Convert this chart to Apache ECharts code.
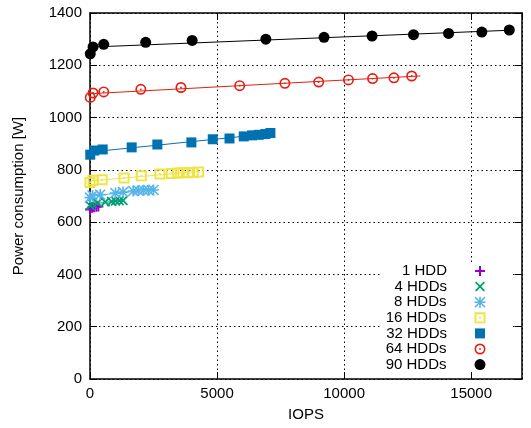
<!DOCTYPE html>
<html>
<head>
<meta charset="utf-8">
<script src="https://cdn.jsdelivr.net/npm/echarts@6/dist/echarts.min.js"></script>
<style>html,body{margin:0;padding:0;background:#fff;}#c{width:531px;height:428px;}</style>
</head>
<body>
<div id="c"></div>
<script>
// ---- data ----
var seriesNames = ['1 HDD', '4 HDDs', '8 HDDs', '16 HDDs', '32 HDDs', '64 HDDs', '90 HDDs'];
var hdd1X = [0, 80, 160, 250, 330];
var hdd1Y = [648, 655, 657, 659, 660];
var hdd4X = [0, 80, 300, 600, 850, 1000, 1150, 1300];
var hdd4Y = [664, 671, 674, 677, 679, 681, 682, 683];
var hdd8X = [0, 100, 400, 1000, 1300, 1700, 1900, 2100, 2300, 2500];
var hdd8Y = [694, 702, 705, 711, 715, 719, 721, 722, 722, 723];
var hdd16X = [0, 120, 480, 1340, 2020, 2750, 3200, 3450, 3660, 3870, 4060, 4270];
var hdd16Y = [752, 760, 762, 769, 777, 784, 786, 788, 789, 789, 790, 792];
var hdd32X = [10, 170, 500, 1640, 2650, 3990, 4830, 5490, 6050, 6380, 6640, 6900, 7100];
var hdd32Y = [858, 874, 878, 886, 897, 905, 917, 920, 928, 932, 934, 937, 941];
var hdd64X = [10, 120, 540, 2000, 3580, 5890, 7670, 9000, 10170, 11120, 11960, 12660];
var hdd64Y = [1077, 1094, 1098, 1108, 1115, 1122, 1131, 1136, 1144, 1149, 1152, 1159];
var hdd90X = [10, 120, 540, 2190, 4020, 6920, 9210, 11100, 12730, 14110, 15420, 16500];
var hdd90Y = [1244, 1270, 1280, 1288, 1295, 1300, 1307, 1312, 1317, 1322, 1327, 1335];
var fitEnd = [350, 1300, 2500, 4300, 7100, 13000, 16500];
var xTicks = [0, 5000, 10000, 15000];
var yTicks = [0, 200, 400, 600, 800, 1000, 1200, 1400];

// ---- styles ----
var colors = ['#9400d3', '#009e73', '#56b4e9', '#f0e442', '#0072b2', '#e51e10', '#000000'];
var PLUS = 'path://M8,0H12V8H20V12H12V20H8V12H0V8H8Z';
var CROSS = 'path://M0,2.5L2.5,0L10,7.5L17.5,0L20,2.5L12.5,10L20,17.5L17.5,20L10,12.5L2.5,20L0,17.5L7.5,10Z';
var STAR = 'path://M8.5,0H11.5V8.5H20V11.5H11.5V20H8.5V11.5H0V8.5H8.5Z M0,2L2,0L10,8L18,0L20,2L12,10L20,18L18,20L10,12L2,20L0,18L8,10Z';
var OSQUARE = 'path://M0,0H20V20H0Z M3.5,3.5V16.5H16.5V3.5Z M8.3,8.3H11.7V11.7H8.3Z';
var OCIRCLE = 'path://M10,0A10,10 0 1 1 10,20A10,10 0 1 1 10,0Z M10,3A7,7 0 1 0 10,17A7,7 0 1 0 10,3Z M10,8.3A1.7,1.7 0 1 1 10,11.7A1.7,1.7 0 1 1 10,8.3Z';
var symbols = [PLUS, CROSS, STAR, OSQUARE, 'rect', OCIRCLE, 'circle'];
var sizes = [10, 10, 11, 11, 10, 11, 11];
var FONT = 'Liberation Sans';

var xs = [hdd1X, hdd4X, hdd8X, hdd16X, hdd32X, hdd64X, hdd90X];
var ys = [hdd1Y, hdd4Y, hdd8Y, hdd16Y, hdd32Y, hdd64Y, hdd90Y];

function linFit(x, y) {
  var n = x.length, mx = 0, my = 0, sxy = 0, sxx = 0;
  for (var i = 0; i < n; i++) { mx += x[i]; my += y[i]; }
  mx /= n; my /= n;
  for (var j = 0; j < n; j++) { sxy += (x[j] - mx) * (y[j] - my); sxx += (x[j] - mx) * (x[j] - mx); }
  var b = sxx ? sxy / sxx : 0;
  return { a: my - b * mx, b: b };
}

var series = [];
var legends = [];
for (var k = 0; k < seriesNames.length; k++) {
  var f = linFit(xs[k], ys[k]);
  series.push({
    type: 'line', name: seriesNames[k] + ' fit', silent: true, showSymbol: false, symbol: 'none',
    data: [[0, f.a], [fitEnd[k], f.a + f.b * fitEnd[k]]],
    lineStyle: { color: colors[k], width: 1 }, z: 2 + k * 0.01
  });
  series.push({
    type: 'scatter', name: seriesNames[k], symbol: symbols[k], symbolSize: sizes[k],
    data: xs[k].map(function (v, i) { return [v, ys[k][i]]; }),
    itemStyle: { color: colors[k], opacity: 1 }, z: 2 + k * 0.01 + 0.005
  });
  legends.push({
    data: [seriesNames[k]], orient: 'vertical', align: 'right', selectedMode: false,
    right: 531 - (480 + sizes[k] / 2), top: 271 + k * 15.6 - 8, padding: 0,
    itemWidth: sizes[k], itemHeight: sizes[k],
    textStyle: { fontFamily: FONT, fontSize: 15, color: '#000', lineHeight: 16, padding: [0, 23, 0, 0] }
  });
}

var tickInside = { show: true, inside: true, length: 7, lineStyle: { color: '#000', width: 1 } };
var gridLine = { show: true, lineStyle: { color: '#000', width: 1, type: [1.5, 3], opacity: 1 } };
var axisLineStyle = { show: true, onZero: false, lineStyle: { color: '#000', width: 1.5 } };

var chart = echarts.init(document.getElementById('c'), null, { renderer: 'canvas' });
chart.setOption({
  animation: false,
  backgroundColor: '#fff',
  grid: { left: 90, right: 9, top: 13, bottom: 49 },
  graphic: [{ type: 'rect', left: 382, top: 262, shape: { width: 131, height: 110 }, style: { fill: '#fff' }, z: 1, silent: true }],
  legend: legends,
  xAxis: [{
    type: 'value', min: 0, max: 17000, interval: 5000, position: 'bottom',
    name: 'IOPS', nameLocation: 'middle', nameGap: 28,
    nameTextStyle: { fontFamily: FONT, fontSize: 15, color: '#000' },
    axisLine: axisLineStyle,
    axisTick: tickInside,
    axisLabel: { fontFamily: FONT, fontSize: 15, color: '#000', margin: 7, showMaxLabel: false,
      formatter: function (v) { return xTicks.indexOf(v) >= 0 ? String(v) : ''; } },
    splitLine: gridLine
  }, {
    type: 'value', min: 0, max: 17000, interval: 5000, position: 'top',
    axisLine: axisLineStyle,
    axisTick: tickInside, axisLabel: { show: false }, splitLine: { show: false }
  }],
  yAxis: [{
    type: 'value', min: 0, max: 1400, interval: 200, position: 'left',
    name: 'Power consumption [W]', nameLocation: 'middle', nameGap: 64, nameRotate: 90,
    nameTextStyle: { fontFamily: FONT, fontSize: 15, color: '#000' },
    axisLine: axisLineStyle,
    axisTick: tickInside,
    axisLabel: { fontFamily: FONT, fontSize: 15, color: '#000', margin: 8,
      formatter: function (v) { return yTicks.indexOf(v) >= 0 ? String(v) : ''; } },
    splitLine: gridLine
  }, {
    type: 'value', min: 0, max: 1400, interval: 200, position: 'right',
    axisLine: axisLineStyle,
    axisTick: tickInside, axisLabel: { show: false }, splitLine: { show: false }
  }],
  series: series
});
</script>
</body>
</html>
